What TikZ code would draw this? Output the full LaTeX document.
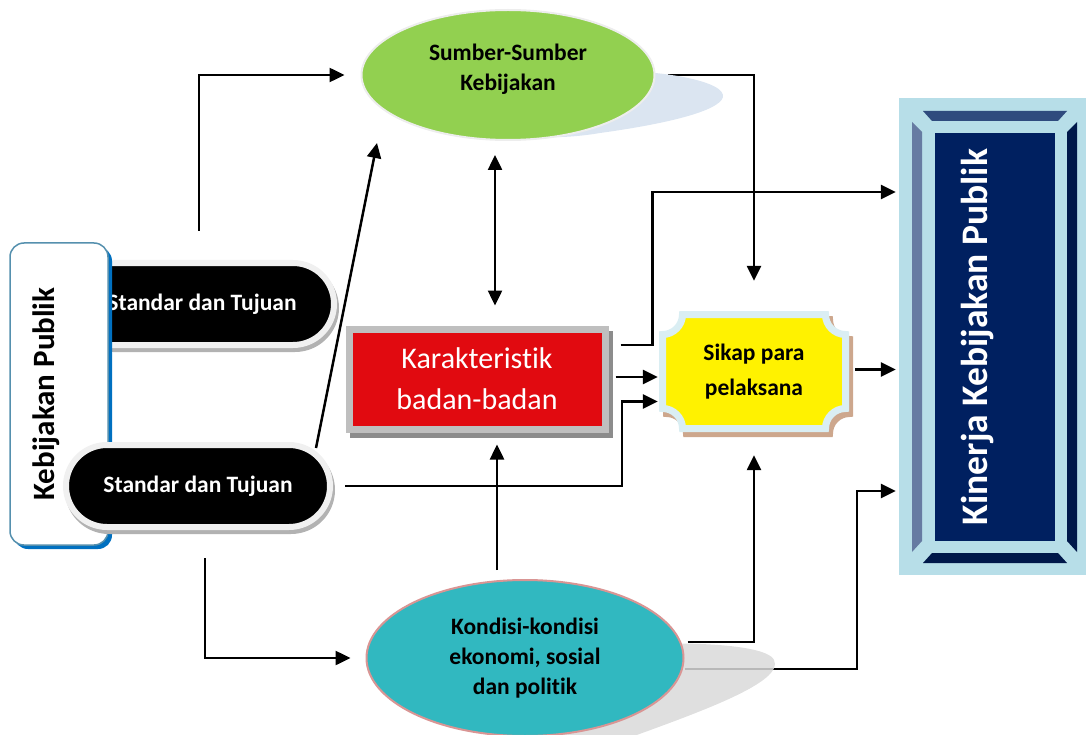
\documentclass[tikz,border=0pt]{standalone}
\usepackage{fontspec}
\setmainfont{Carlito}[Ligatures=NoCommon]
\usepackage{graphicx}
\usepackage{tikz}
\usetikzlibrary{shapes.geometric,arrows.meta,shadows,positioning}

\definecolor{sumbergreen}{HTML}{92D050}
\definecolor{sumbershade}{HTML}{DBE5F1}
\definecolor{karakred}{HTML}{E10A10}
\definecolor{sikapedge}{HTML}{DAEEF3}
\definecolor{sikapshade}{HTML}{CDA78D}
\definecolor{kondisiteal}{HTML}{31B8C0}
\definecolor{kondisiedge}{HTML}{D99594}
\definecolor{kebedge}{HTML}{5590AE}
\definecolor{kebshade}{HTML}{0070C0}
\definecolor{kinlight}{HTML}{B7DEE8}
\definecolor{kinnavy}{HTML}{002060}
\definecolor{kintop}{HTML}{2F4B7E}
\definecolor{kinleft}{HTML}{667BA2}
\definecolor{kindark}{HTML}{00184A}

\pgfdeclarelayer{background}
\pgfsetlayers{background,main}

\newcommand{\plaquepath}[4]{({#1+20},#2) -- ({#3-20},#2) .. controls ({#3-20},{#2+11}) and ({#3-11},{#2+20}) .. (#3,{#2+20}) -- (#3,{#4-20}) .. controls ({#3-11},{#4-20}) and ({#3-20},{#4-11}) .. ({#3-20},#4) -- ({#1+20},#4) .. controls ({#1+20},{#4-11}) and ({#1+11},{#4-20}) .. (#1,{#4-20}) -- (#1,{#2+20}) .. controls ({#1+11},{#2+20}) and ({#1+20},{#2+11}) .. cycle}

\tikzset{
	arr/.style={line width=2.5pt,-{Triangle[length=15pt,width=14pt]}},
	dblarr/.style={line width=2.5pt,{Triangle[length=15pt,width=14pt]}-{Triangle[length=15pt,width=14pt]}},
	boldtext/.style={font=\bfseries\fontsize{23.5}{30}\selectfont,align=center},
	pill/.style={rectangle,rounded corners=41pt,minimum width=264,minimum height=82,inner sep=0,
		fill=black,draw=black!6,line width=6pt,text=white,boldtext,
		drop shadow={shadow xshift=2pt,shadow yshift=-4pt,fill=black!30,draw=black!30,opacity=1}},
	kebbox/.style={rectangle,rounded corners=14pt,minimum width=98,minimum height=302,inner sep=0,
		fill=white,draw=kebedge,line width=1.5pt,
		font=\bfseries\fontsize{31}{36}\selectfont,
		drop shadow={shadow xshift=4pt,shadow yshift=-4pt,fill=kebshade,opacity=1}},
	sumberball/.style={ellipse,minimum width=293,minimum height=130,inner sep=0,
		fill=sumbergreen,draw=black!7,line width=2pt,boldtext},
	karakbox/.style={rectangle,minimum width=256,minimum height=100,inner sep=0,
		fill=karakred,draw=black!25,line width=7pt,text=white,align=center,
		font=\fontsize{30}{41}\selectfont,
		drop shadow={shadow xshift=4pt,shadow yshift=-5pt,fill=black!45,draw=black!45,line width=7pt,opacity=1}},
	kondisiball/.style={ellipse,minimum width=317,minimum height=156,inner sep=0,
		fill=kondisiteal,draw=kondisiedge,line width=2pt,boldtext},
	kinbox/.style={rectangle,minimum width=120,minimum height=408,inner sep=0,
		fill=kinnavy,text=white,font=\bfseries\fontsize{37.5}{40}\selectfont}
}

\begin{document}
\begin{tikzpicture}[x=1pt,y=-1pt]
\useasboundingbox (0,0) rectangle (1086,735);

\fill[sumbershade] (723,95) .. controls (720,78) and (640,68) .. (600,72) -- (480,120) .. controls (500,140) and (560,140) .. (600,133) .. controls (680,122) and (725,108) .. cycle;
\fill[black!15,fill opacity=0.85] (774,660) .. controls (765,640) and (640,640) .. (560,650) -- (560,740) -- (623,740) .. controls (700,712) and (785,682) .. cycle;

\node[pill] (std1) at (202,304) {Standar dan Tujuan};
\node[kebbox] (kebijakan) at (59,394) {\rotatebox{90}{Kebijakan Publik}\hspace{26pt}\mbox{}};
\node[pill] (std2) at (198,486) {Standar dan Tujuan};

\node[sumberball] (sumber) at (508,75) {Sumber-Sumber\\Kebijakan\\[-14pt]\mbox{}};
\node[karakbox] (karak) at (477,379) {Karakteristik\\badan-badan};

\node[rectangle,minimum width=190,minimum height=121,inner sep=0] (sikap) at (754,371.5) {};
\draw[fill=sikapshade,draw=sikapshade,line width=7pt,shift={(4,5)}] \plaquepath{662.5}{314.5}{845.5}{428.5};
\draw[fill=yellow,draw=sikapedge,line width=7pt] \plaquepath{662.5}{314.5}{845.5}{428.5};
\node[boldtext,font=\bfseries\fontsize{23.5}{35}\selectfont] at (sikap.center) {Sikap para\\pelaksana};

\fill[kinlight] (899,98) rectangle (1086,575);
\fill[kintop] (923,111) -- (1067,111) -- (1058,121) -- (932,121) -- cycle;
\fill[kinleft] (912,122) -- (922,132) -- (922,541) -- (912,552) -- cycle;
\fill[kindark] (1077,122) -- (1077,552) -- (1067,541) -- (1067,132) -- cycle;
\fill[kindark] (923,563) -- (1067,563) -- (1058,553) -- (932,553) -- cycle;
\node[kinbox] (kinerja) at (995,337) {\rotatebox{90}{Kinerja Kebijakan Publik}\hspace{36pt}\mbox{}};

\node[kondisiball] (kondisi) at (525,658) {Kondisi-kondisi\\ekonomi, sosial\\dan politik};

\begin{pgfonlayer}{background}
\draw[arr,shorten <=29pt,shorten >=16pt] ([xshift=-3pt]std1.north) |- (sumber.west);
\draw[arr] ([xshift=-17pt,yshift=-6pt]std2.north east) -- ([xshift=-131pt,yshift=-68pt]sumber.center);
\draw[dblarr,shorten <=20pt,shorten >=14pt] ([xshift=18pt]karak.north) -- ([xshift=18pt]karak.north |- sumber.south);
\draw[arr,shorten <=12pt,shorten >=30pt] (sumber.east) -| (sikap.north);
\draw[arr,shorten <=12pt,shorten >=39pt] ([yshift=34pt]karak.east) -- ([xshift=44pt,yshift=34pt]karak.east) |- ([yshift=145pt]kinerja.west);
\draw[arr,shorten <=7pt,shorten >=1pt] ([yshift=2pt]karak.east) -- ([yshift=2pt]karak.east -| sikap.west);
\draw[arr,shorten <=12pt,shorten >=1pt] (std2.east) -| ([xshift=-37pt,yshift=-30pt]sikap.west) -- ([yshift=-30pt]sikap.west);
\draw[arr,shorten <=6pt,shorten >=39pt] ([yshift=2pt]sikap.east) -- ([yshift=2pt]sikap.east -| kinerja.west);
\draw[arr,shorten <=28pt,shorten >=15pt] ([xshift=7pt]std2.south) |- (kondisi.west);
\draw[arr,shorten <=9pt,shorten >=12pt] ([xshift=20pt]karak.south |- kondisi.north) -- ([xshift=20pt]karak.south);
\draw[arr,shorten <=3pt,shorten >=23pt] ([yshift=16pt]kondisi.east) -| (sikap.south);
\draw[arr,shorten >=39pt] ([yshift=-11pt]kondisi.east) -| ([xshift=-78pt,yshift=-154pt]kinerja.west) -- ([yshift=-154pt]kinerja.west);
\end{pgfonlayer}
\end{tikzpicture}
\end{document}
